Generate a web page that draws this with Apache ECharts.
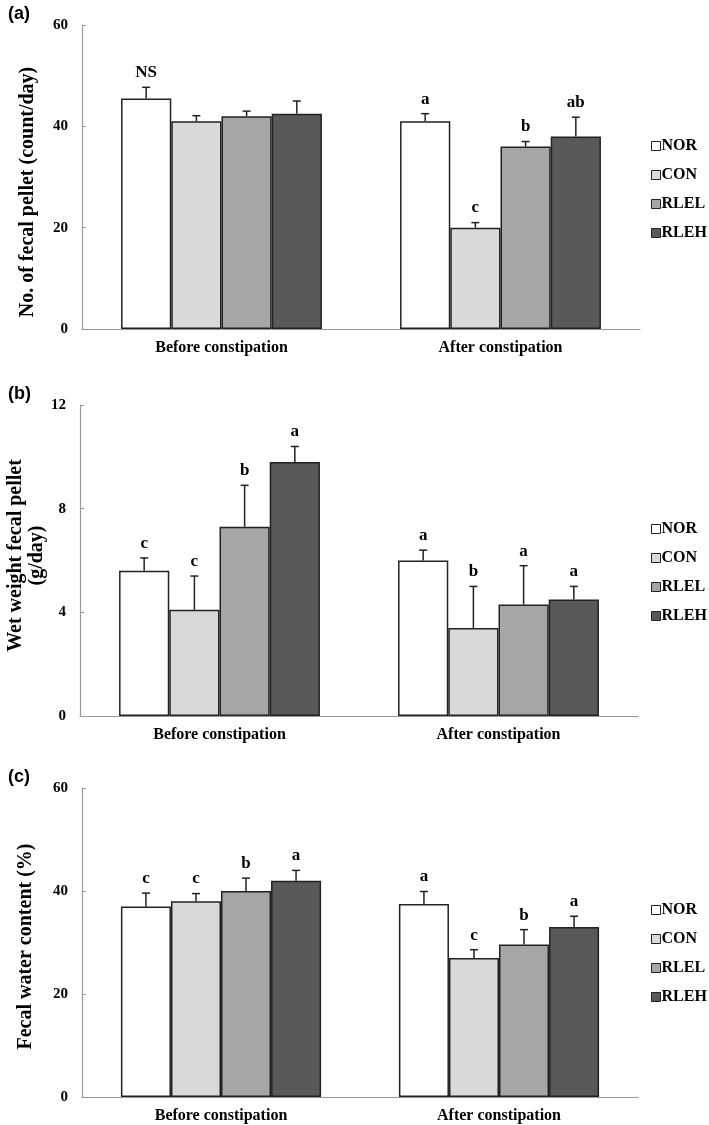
<!DOCTYPE html>
<html>
<head>
<meta charset="utf-8">
<script src="https://cdn.jsdelivr.net/npm/echarts@6/dist/echarts.min.js"></script>
<style>
  html, body { margin: 0; padding: 0; background: #fff; }
  #main { width: 709px; height: 1125px; }
</style>
</head>
<body>
<div id="main"></div>
<script>
const groups = ['NOR', 'CON', 'RLEL', 'RLEH'];
const periods = ['Before constipation', 'After constipation'];

// (a) number of fecal pellets, [before, after] per group
const pelletCount = [[45.5, 41.0], [41.0, 20.0], [42.0, 36.0], [42.5, 38.0]];
const pelletCountErr = [[2.2, 1.5], [1.1, 1.0], [1.0, 1.0], [2.5, 3.8]];
const pelletCountMarks = [['NS', 'a'], ['', 'c'], ['', 'b'], ['', 'ab']];

// (b) wet weight of fecal pellets
const wetWeight = [[5.6, 6.0], [4.1, 3.4], [7.3, 4.3], [9.8, 4.5]];
const wetWeightErr = [[0.5, 0.4], [1.3, 1.6], [1.6, 1.5], [0.6, 0.5]];
const wetWeightMarks = [['c', 'a'], ['c', 'b'], ['b', 'a'], ['a', 'a']];

// (c) fecal water content
const waterContent = [[37.0, 37.5], [38.0, 27.0], [40.0, 29.6], [42.0, 33.0]];
const waterContentErr = [[2.6, 2.4], [1.5, 1.6], [2.5, 2.9], [2.0, 2.1]];
const waterContentMarks = [['c', 'a'], ['c', 'c'], ['b', 'b'], ['a', 'a']];

const colors = ['#ffffff', '#d9d9d9', '#a6a6a6', '#595959'];
const serif = 'Liberation Serif';
const catGap = 0.28;

const panels = [
  { tag: '(a)', means: pelletCount, errs: pelletCountErr, marks: pelletCountMarks,
    max: 60, interval: 20, name: 'No. of fecal pellet (count/day)',
    grid: { left: 82, top: 25, width: 558, height: 304 }, legendTop: 138, namePad: [0, 30, 0, 0], nameGap: 44 },
  { tag: '(b)', means: wetWeight, errs: wetWeightErr, marks: wetWeightMarks,
    max: 12, interval: 4, name: 'Wet weight fecal pellet\n(g/day)',
    grid: { left: 80, top: 405, width: 558, height: 311 }, legendTop: 521, namePad: [0, 0, 0, 10], nameGap: 33 },
  { tag: '(c)', means: waterContent, errs: waterContentErr, marks: waterContentMarks,
    max: 60, interval: 20, name: 'Fecal water content (%)',
    grid: { left: 82, top: 788, width: 556, height: 309 }, legendTop: 902, namePad: [0, 8, 0, 0], nameGap: 46 }
];

const option = {
  animation: false,
  backgroundColor: '#fff',
  title: [], grid: [], xAxis: [], yAxis: [], legend: [], series: []
};

panels.forEach((p, k) => {
  option.title.push({
    text: p.tag, left: 3, top: p.grid.top - 25,
    textStyle: { fontFamily: 'Liberation Sans', fontWeight: 'bold', fontSize: 18, color: '#000' }
  });
  option.grid.push(Object.assign({ outerBoundsMode: 'none', containLabel: false }, p.grid));
  option.xAxis.push({
    type: 'category', gridIndex: k, data: periods,
    axisLine: { lineStyle: { color: '#999', width: 1.2 } },
    axisTick: { show: false },
    axisLabel: { margin: 11, color: '#000', fontFamily: serif, fontWeight: 'bold', fontSize: 16 }
  });
  option.yAxis.push({
    type: 'value', gridIndex: k, min: 0, max: p.max, interval: p.interval,
    name: p.name, nameLocation: 'middle', nameGap: p.nameGap, nameMoveOverlap: false,
    nameTextStyle: { fontFamily: serif, fontWeight: 'bold', fontSize: 20, color: '#000', lineHeight: 21, padding: p.namePad },
    axisLine: { show: true, lineStyle: { color: '#999', width: 1.2 } },
    axisTick: { show: true, inside: true, length: 4, lineStyle: { color: '#999' } },
    splitLine: { show: false },
    axisLabel: { margin: 14, color: '#000', fontFamily: serif, fontWeight: 'bold', fontSize: 15 }
  });
  option.legend.push({
    data: groups, orient: 'vertical', left: 651, top: p.legendTop, padding: 0,
    itemWidth: 9, itemHeight: 9, itemGap: 13, icon: 'rect',
    itemStyle: { borderWidth: 1, borderColor: '#222' },
    textStyle: { fontFamily: serif, fontWeight: 'bold', fontSize: 16, color: '#000', padding: [0, 0, 0, -4] }
  });

  groups.forEach((g, s) => {
    option.series.push({
      name: g, type: 'bar', xAxisIndex: k, yAxisIndex: k,
      data: p.means[s],
      barGap: '0%', barCategoryGap: (catGap * 100) + '%',
      itemStyle: { color: colors[s], borderColor: '#222', borderWidth: 1.5 }
    });
  });

  // error bars (upper half) and significance letters
  const items = [];
  groups.forEach((g, s) => periods.forEach((per, c) => {
    items.push([c, p.means[s][c], p.errs[s][c], s, p.marks[s][c]]);
  }));
  option.series.push({
    type: 'custom', xAxisIndex: k, yAxisIndex: k, z: 5,
    data: items.map(d => [d[0], d[1] + d[2]]),
    encode: { x: 0, y: 1 },
    renderItem: function (params, api) {
      const d = items[params.dataIndex];
      const catW = api.size([1, 0])[0];
      const barW = catW * (1 - catGap) / groups.length;
      const centre = api.coord([d[0], 0])[0];
      const x = centre - catW * (1 - catGap) / 2 + barW * (d[3] + 0.5);
      const yBase = api.coord([d[0], d[1]])[1];
      const yTop = api.coord([d[0], d[1] + d[2]])[1];
      const stroke = { stroke: '#222', lineWidth: 1.5 };
      const kids = [
        { type: 'line', shape: { x1: x, y1: yBase, x2: x, y2: yTop }, style: stroke },
        { type: 'line', shape: { x1: x - 4, y1: yTop, x2: x + 4, y2: yTop }, style: stroke }
      ];
      if (d[4]) {
        kids.push({
          type: 'text',
          style: { text: d[4], x: x, y: yTop - 6, align: 'center', verticalAlign: 'bottom',
                   font: 'bold 17px "Liberation Serif"', fill: '#000' }
        });
      }
      return { type: 'group', children: kids };
    }
  });
});

const chart = echarts.init(document.getElementById('main'));
chart.setOption(option);
</script>
</body>
</html>
